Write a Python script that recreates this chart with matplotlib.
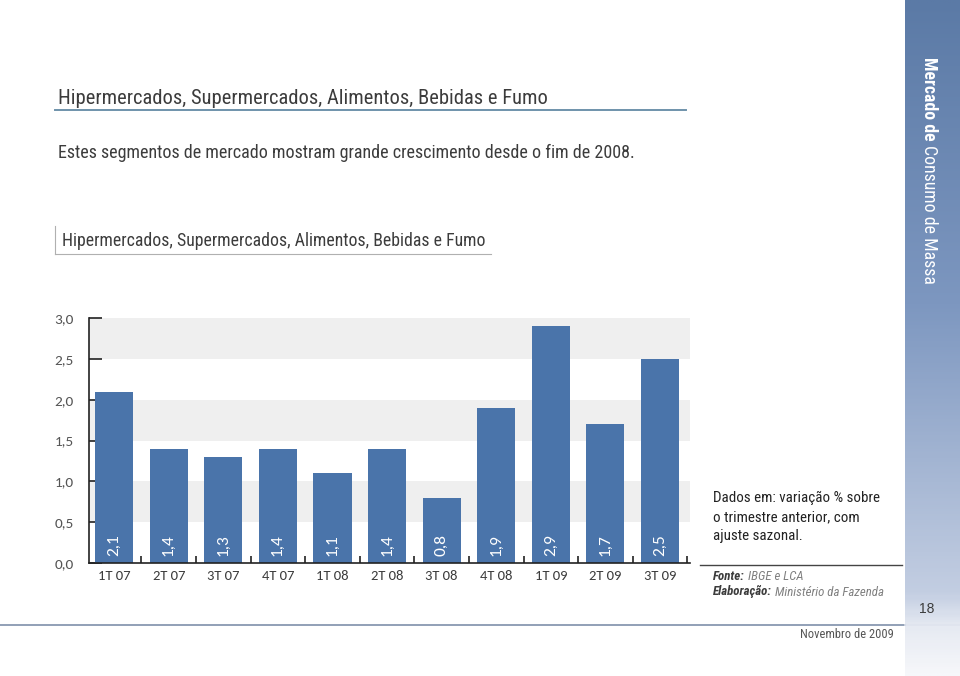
import numpy as np
import matplotlib
matplotlib.use('Agg')
import matplotlib.pyplot as plt
from matplotlib import font_manager
from matplotlib.lines import Line2D
from matplotlib.colors import LinearSegmentedColormap

# -------------------------------------------------------------------------
# data

quarters = ['1T 07', '2T 07', '3T 07', '4T 07', '1T 08', '2T 08',
            '3T 08', '4T 08', '1T 09', '2T 09', '3T 09']
values = [2.1, 1.4, 1.3, 1.4, 1.1, 1.4, 0.8, 1.9, 2.9, 1.7, 2.5]
yticks = [0.0, 0.5, 1.0, 1.5, 2.0, 2.5, 3.0]

title = 'Hipermercados, Supermercados, Alimentos, Bebidas e Fumo'
subtitle = 'Estes segmentos de mercado mostram grande crescimento desde o fim de 2008.'
note = 'Dados em: variação % sobre\no trimestre anterior, com\najuste sazonal.'

# -------------------------------------------------------------------------
# fonts

installed = set(f.name for f in font_manager.fontManager.ttflist)

def pick(names):
    for n in names:
        if n in installed:
            return [n, 'DejaVu Sans']
    return ['DejaVu Sans']

narrow = pick(['Roboto Condensed', 'Liberation Sans Narrow', 'Arial Narrow',
               'Archivo Narrow', 'PT Sans Narrow', 'IBM Plex Sans Condensed'])
body = pick(['Carlito', 'Calibri', 'Open Sans'])

# -------------------------------------------------------------------------

W, H = 960., 676.
bar_color = '#4a74aa'
text_gray = '#3c3c3c'

def fx(x):
    return x / W

def fy(y):
    return 1. - y / H

fig = plt.figure(figsize=(9.6, 6.76), dpi=100)
fig.patch.set_facecolor('white')
renderer = fig.canvas.get_renderer()

def extent(t):
    return t.get_window_extent(renderer)

# right sidebar gradient
side = fig.add_axes([fx(905), 0., fx(960) - fx(905), 1.])
cmap = LinearSegmentedColormap.from_list(
    'side', [(0., '#5b7aa6'), (0.45, '#7d97c0'), (0.88, '#c3cee2'),
             (0.93, '#e6eaf2'), (1., '#f6f7fa')])
side.imshow(np.linspace(0, 1, 300).reshape(-1, 1), aspect='auto', cmap=cmap,
            extent=[0, 1, 1, 0])
side.axis('off')
t1 = fig.text(fx(929), fy(57), 'Mercado de', rotation=270, color='white',
              fontsize=12.8, fontweight='bold', family=narrow,
              va='top', ha='center')
bb = extent(t1)
fig.text(fx(929), (bb.y0 - 4) / H, 'Consumo de Massa', rotation=270,
         color='white', fontsize=12.8, family=narrow, va='top', ha='center')
fig.text(fx(927), fy(609), '18', color=text_gray, fontsize=10,
         family=['Liberation Sans', 'DejaVu Sans'], ha='center', va='center')

# headings
fig.text(fx(58), fy(98), title, fontsize=14.8, family=narrow, color=text_gray,
         va='center')
fig.add_artist(Line2D([fx(55), fx(686)], [fy(110), fy(110)],
                      color='#6f93ab', lw=1.4))
fig.text(fx(58), fy(153), subtitle, fontsize=13, family=narrow,
         color=text_gray, va='center')
fig.text(fx(62), fy(241), title, fontsize=12.8, family=narrow,
         color=text_gray, va='center')
fig.add_artist(Line2D([fx(55), fx(55)], [fy(226), fy(254)],
                      color='#b0b0b0', lw=0.8))
fig.add_artist(Line2D([fx(55), fx(491)], [fy(254), fy(254)],
                      color='#b0b0b0', lw=0.8))

# chart
ax = fig.add_axes([fx(89), fy(563), fx(690) - fx(89), fy(318) - fy(563)])
x = np.arange(len(quarters))
for lo in [0.5, 1.5, 2.5]:
    ax.axhspan(lo, lo + 0.5, color='#efefef', lw=0, zorder=0)
ax.bar(x, values, width=0.70, color=bar_color, zorder=2)
for xi, v in zip(x, values):
    ax.text(xi, 0.08, ('%.1f' % v).replace('.', ','), rotation=90,
            color='white', fontsize=12.5, family=body, ha='center',
            va='bottom', zorder=3)

ax.set_xlim(-0.46, len(quarters) - 0.45)
ax.set_ylim(0, 3.0)
ax.set_yticks(yticks)
ax.set_yticklabels([('%.1f' % t).replace('.', ',') for t in yticks],
                   family=body, fontsize=11, color='#555555')
ax.set_xticks(x)
ax.set_xticklabels(quarters, family=body, fontsize=10.5, color=text_gray)
ax.set_xticks(np.arange(len(quarters)) + 0.5, minor=True)
ax.tick_params(axis='x', which='major', length=0, pad=5)
ax.tick_params(axis='x', which='minor', direction='in', length=5,
               width=1.2, color='#222222')
ax.tick_params(axis='y', direction='in', length=9, width=1.2,
               color='#222222', pad=11)
for s in ['top', 'right']:
    ax.spines[s].set_visible(False)
for s in ['left', 'bottom']:
    ax.spines[s].set_linewidth(1.2)
    ax.spines[s].set_color('#222222')

# notes
fig.text(fx(713), fy(491), note, fontsize=10.8, family=narrow,
         color='#222222', va='top', linespacing=1.45)
fig.add_artist(Line2D([fx(700), fx(902)], [fy(565), fy(565)],
                      color='#444444', lw=1))
for y, lab, rest in [(576, 'Fonte:', 'IBGE e LCA'),
                     (592, 'Elaboração:', 'Ministério da Fazenda')]:
    t = fig.text(fx(713), fy(y), lab, fontsize=9.3, family=narrow,
                 fontweight='bold', style='italic', color=text_gray,
                 va='center')
    bb = extent(t)
    fig.text((bb.x1 + 3) / W, fy(y), rest, fontsize=9.3, family=narrow,
             style='italic', color='#808080', va='center')

fig.add_artist(Line2D([0, fx(905)], [fy(625), fy(625)], color='#7f90aa',
                      lw=1.2))
fig.add_artist(Line2D([fx(905), 1], [fy(625), fy(625)], color='#dfe4ee',
                      lw=1.2))
fig.text(fx(847), fy(635), 'Novembro de 2009', fontsize=9, family=narrow,
         color='#555555', ha='center', va='center')

fig.savefig('out.png', dpi=100)
